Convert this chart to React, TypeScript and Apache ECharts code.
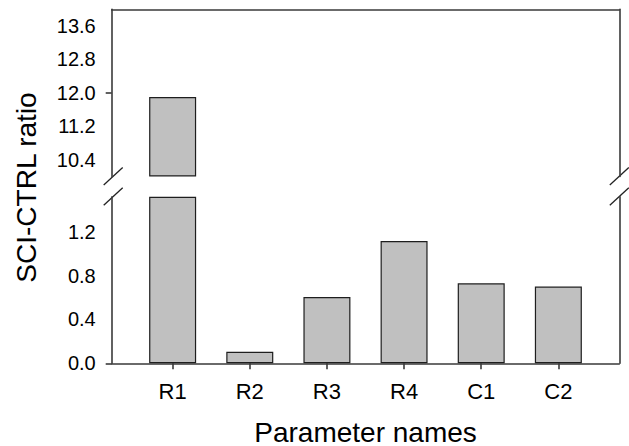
import React, { useEffect, useRef } from "react";
import * as echarts from "echarts";

const categories = ["R1", "R2", "R3", "R4", "C1", "C2"];
const ratioValues = [11.9, 0.105, 0.605, 1.115, 0.73, 0.7];
const lowerTickLabels = [0, 0.4, 0.8, 1.2];
const upperTickLabels = [10.4, 11.2, 12.0, 12.8, 13.6];
const lowerRange = [0, 1.52];
const upperRange = [10, 14];

const FONT = "'Liberation Sans', Arial, Helvetica, sans-serif";
const AXIS_COLOR = "#3a3a3a";

export default function App() {
  const ref = useRef<HTMLDivElement>(null);
  useEffect(() => {
    if (!ref.current) return;
    const chart = echarts.init(ref.current, null, { renderer: "svg" });
    const positions = categories.map((_, i) => i + 1);
    const lowerData = ratioValues.map((v, i) => [positions[i], Math.min(v, lowerRange[1])]);
    const upperData = ratioValues.map((v, i) => [positions[i], v >= upperRange[0] ? v : null]);

    const gL = 111.7;
    const gR = 619.3;
    const upTop = 9.3;
    const upBottom = 176.5;
    const lowTop = 196.7;
    const lowBottom = 363.3;

    const lineStyle = { color: AXIS_COLOR, width: 1.6 };
    const xMin = 0.21;
    const xMax = categories.length + 0.79;

    const slash = (cx: number, cy: number) => ({
      type: "line",
      shape: { x1: cx - 9, y1: cy + 8.5, x2: cx + 10, y2: cy - 9 },
      style: { stroke: "#222", lineWidth: 1.3 },
      silent: true,
    });

    const xRich = { t: { fontSize: 22, fontFamily: FONT, color: "#000" } };
    const yRich = { t: { fontSize: 20, fontFamily: FONT, color: "#000" } };
    const yFmt = (v: number) => "{t|" + v.toFixed(1) + "}";

    const option: any = {
      animation: false,
      backgroundColor: "#fff",
      textStyle: { fontFamily: FONT },
      grid: [
        { left: gL, right: 629 - gR, top: upTop, height: upBottom - upTop },
        { left: gL, right: 629 - gR, top: lowTop, height: lowBottom - lowTop },
      ],
      xAxis: [
        {
          gridIndex: 0,
          type: "value",
          min: xMin,
          max: xMax,
          position: "top",
          axisLine: { show: true, onZero: false, lineStyle },
          axisTick: { show: false },
          axisLabel: { show: false },
          splitLine: { show: false },
        },
        {
          gridIndex: 1,
          type: "value",
          min: xMin,
          max: xMax,
          position: "bottom",
          axisLine: { show: true, onZero: false, lineStyle },
          axisTick: { show: true, length: 6, customValues: positions, lineStyle },
          axisLabel: {
            show: true,
            customValues: positions,
            formatter: (v: number) => "{t|" + (categories[Math.round(v) - 1] ?? "") + "}",
            rich: xRich,
            color: "#000",
            fontSize: 22,
            fontFamily: FONT,
            margin: 17,
          },
          splitLine: { show: false },
        },
      ],
      yAxis: [
        {
          gridIndex: 0,
          type: "value",
          min: upperRange[0],
          max: upperRange[1],
          startValue: upperRange[0],
          position: "left",
          axisLine: { show: true, onZero: false, lineStyle },
          axisTick: { show: true, length: 6, customValues: [12], lineStyle },
          axisLabel: {
            show: true,
            customValues: upperTickLabels,
            formatter: yFmt,
            rich: yRich,
            color: "#000",
            fontSize: 20,
            fontFamily: FONT,
            margin: 16,
          },
          splitLine: { show: false },
        },
        {
          gridIndex: 0,
          type: "value",
          min: upperRange[0],
          max: upperRange[1],
          position: "right",
          axisLine: { show: true, onZero: false, lineStyle },
          axisTick: { show: false },
          axisLabel: { show: false },
          splitLine: { show: false },
        },
        {
          gridIndex: 1,
          type: "value",
          min: lowerRange[0],
          max: lowerRange[1],
          position: "left",
          axisLine: { show: true, onZero: false, lineStyle },
          axisTick: { show: true, length: 6, customValues: [0], lineStyle },
          axisLabel: {
            show: true,
            customValues: lowerTickLabels,
            formatter: yFmt,
            rich: yRich,
            color: "#000",
            fontSize: 20,
            fontFamily: FONT,
            margin: 16,
          },
          splitLine: { show: false },
        },
        {
          gridIndex: 1,
          type: "value",
          min: lowerRange[0],
          max: lowerRange[1],
          position: "right",
          axisLine: { show: true, onZero: false, lineStyle },
          axisTick: { show: false },
          axisLabel: { show: false },
          splitLine: { show: false },
        },
      ],
      series: [
        {
          type: "bar",
          xAxisIndex: 0,
          yAxisIndex: 0,
          data: upperData,
          barWidth: 47,
          clip: true,
          itemStyle: { color: "#c0c0c0", borderColor: "#1e1e1e", borderWidth: 1.2 },
        },
        {
          type: "bar",
          xAxisIndex: 1,
          yAxisIndex: 2,
          data: lowerData,
          barWidth: 47,
          itemStyle: { color: "#c0c0c0", borderColor: "#1e1e1e", borderWidth: 1.2 },
        },
      ],
      graphic: [
        slash(gL + 1, upBottom),
        slash(gL + 1, lowTop),
        slash(gR - 0.5, upBottom),
        slash(gR - 0.5, lowTop),
        {
          type: "text",
          x: 26,
          y: 187.5,
          rotation: Math.PI / 2,
          style: {
            text: "SCI-CTRL ratio",
            fill: "#000",
            font: `28px ${FONT}`,
            align: "center",
            verticalAlign: "middle",
          },
        },
        {
          type: "text",
          x: (gL + gR) / 2,
          y: 432,
          style: {
            text: "Parameter names",
            fill: "#000",
            font: `28px ${FONT}`,
            align: "center",
            verticalAlign: "middle",
          },
        },
      ],
    };
    chart.setOption(option);
    return () => chart.dispose();
  }, []);
  return (
    <div
      ref={ref}
      style={{ position: "fixed", left: 0, top: 0, width: 629, height: 446 }}
    />
  );
}
